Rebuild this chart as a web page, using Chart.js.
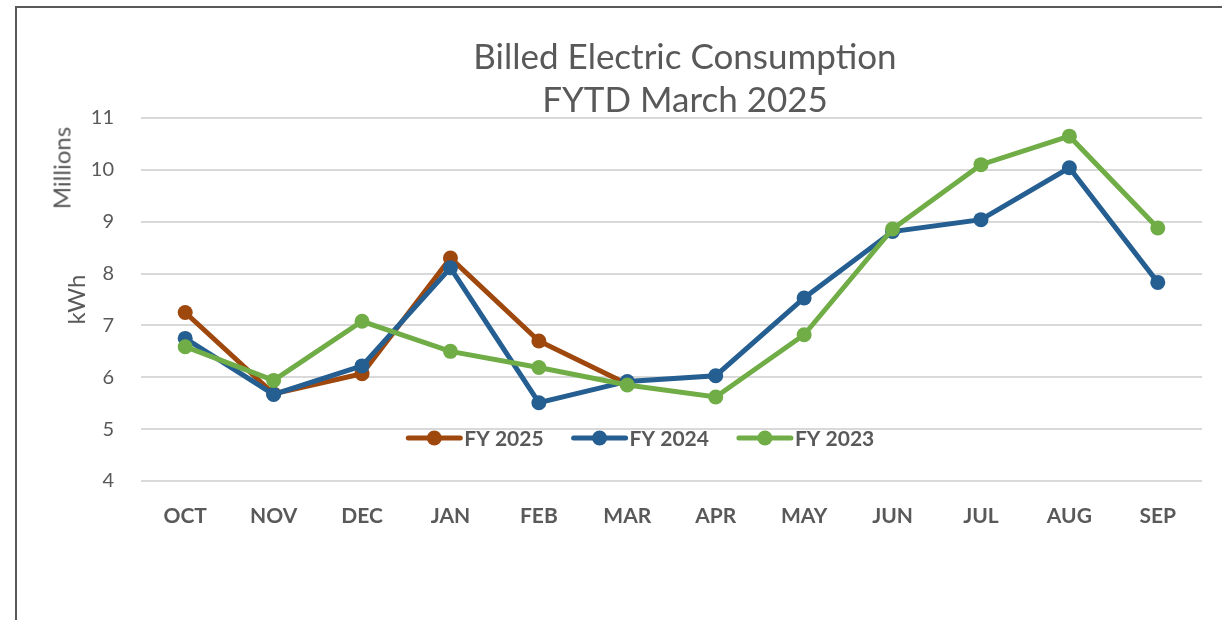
<!DOCTYPE html>
<html lang="en">
    <head>
        <meta charset="UTF-8">
        <title>Billed Electric Consumption</title>
        <script src="https://cdn.jsdelivr.net/npm/chart.js@4.4.1/dist/chart.umd.min.js"></script>
        <style>
            html, body { margin: 0; padding: 0; background: #fff; }
            #wrap { position: relative; width: 1222px; height: 620px; overflow: hidden; }
            #frame { position: absolute; left: 15px; top: 6px; width: 1300px; height: 700px;
                     border-left: 2px solid #595959; border-top: 2px solid #595959; }
            #title { position: absolute; left: 385px; top: 34px; width: 600px; text-align: center;
                     font-family: Lato, sans-serif; font-size: 35px; line-height: 43px; color: #595959; }
            #units { position: absolute; left: 61px; top: 168px; transform: translate(-50%, -50%) rotate(-90deg);
                     font-family: Lato, sans-serif; font-size: 24px; color: #595959; white-space: nowrap; }
            canvas { position: absolute; left: 0; top: 0; }
        </style>
    </head>
    <body>
        <div id="wrap">
            <div id="frame"></div>
            <canvas id="usageChart" width="1222" height="620"></canvas>
            <div id="title">Billed Electric Consumption<br>FYTD March 2025</div>
            <div id="units">Millions</div>
        </div>
        <script>
            // months of the fiscal year
            var months = ['OCT', 'NOV', 'DEC', 'JAN', 'FEB', 'MAR', 'APR', 'MAY', 'JUN', 'JUL', 'AUG', 'SEP'];

            // kWh, millions
            var fy2025 = [7.25, 5.68, 6.07, 8.30, 6.70, 5.87];
            var fy2024 = [6.75, 5.67, 6.22, 8.11, 5.51, 5.92, 6.03, 7.53, 8.81, 9.04, 10.04, 7.83];
            var fy2023 = [6.59, 5.94, 7.08, 6.50, 6.19, 5.85, 5.62, 6.82, 8.86, 10.10, 10.65, 8.88];

            var grey = '#595959';

            function series(label, data, color, order) {
                return {
                    label: label,
                    data: data,
                    borderColor: color,
                    backgroundColor: color,
                    pointBackgroundColor: color,
                    pointBorderWidth: 0,
                    pointRadius: 7.5,
                    pointHoverRadius: 7.5,
                    borderWidth: 5,
                    tension: 0,
                    fill: false,
                    order: order
                };
            }

            // legend sits inside the plot, just above the bottom gridline
            var innerLegend = {
                id: 'innerLegend',
                afterDraw: function(chart) {
                    var c = chart.ctx;
                    var area = chart.chartArea;
                    var y = chart.scales.y.getPixelForValue(4.83);
                    var lineLen = 52, gap = 4, itemGap = 30;
                    c.save();
                    c.font = 'bold 21px Lato, sans-serif';
                    c.textBaseline = 'middle';
                    var items = chart.data.datasets;
                    var total = 0;
                    items.forEach(function(ds, i) {
                        total += lineLen + gap + c.measureText(ds.label).width;
                        if (i < items.length - 1) total += itemGap;
                    });
                    var x = area.left + area.width * 0.4715 - total / 2;
                    items.forEach(function(ds) {
                        c.strokeStyle = ds.borderColor;
                        c.lineWidth = 5;
                        c.lineCap = 'round';
                        c.beginPath();
                        c.moveTo(x, y);
                        c.lineTo(x + lineLen, y);
                        c.stroke();
                        c.fillStyle = ds.borderColor;
                        c.beginPath();
                        c.arc(x + lineLen / 2, y, 7.5, 0, Math.PI * 2);
                        c.fill();
                        x += lineLen + gap;
                        c.fillStyle = grey;
                        c.fillText(ds.label, x, y + 1);
                        x += c.measureText(ds.label).width + itemGap;
                    });
                    c.restore();
                }
            };

            var ctx = document.getElementById('usageChart').getContext('2d');
            var usageChart = new Chart(ctx, {
                type: 'line',
                data: {
                    labels: months,
                    datasets: [
                        series('FY 2025', fy2025, '#9E480E', 3),
                        series('FY 2024', fy2024, '#255E91', 2),
                        series('FY 2023', fy2023, '#70AD47', 1)
                    ]
                },
                options: {
                    responsive: false,
                    animation: false,
                    layout: {
                        padding: { left: 59, right: 20, top: 118, bottom: 89 }
                    },
                    plugins: {
                        legend: { display: false },
                        title: { display: false },
                        tooltip: { enabled: false }
                    },
                    scales: {
                        x: {
                            offset: true,
                            grid: { display: false },
                            border: { display: false },
                            ticks: {
                                color: grey,
                                padding: 15,
                                maxRotation: 0,
                                font: { family: 'Lato', size: 21, weight: 'bold' }
                            },
                            afterFit: function(scale) { scale.height = 50; }
                        },
                        y: {
                            min: 4,
                            max: 11,
                            grid: { color: '#d9d9d9', lineWidth: 2, drawTicks: false },
                            border: { display: false },
                            ticks: {
                                stepSize: 1,
                                color: grey,
                                padding: 27,
                                font: { family: 'Lato', size: 20 }
                            },
                            title: {
                                display: true,
                                text: 'kWh',
                                color: grey,
                                font: { family: 'Lato', size: 24 }
                            },
                            afterFit: function(scale) { scale.width = 82; }
                        }
                    }
                },
                plugins: [innerLegend]
            });
        </script>
    </body>
</html>
